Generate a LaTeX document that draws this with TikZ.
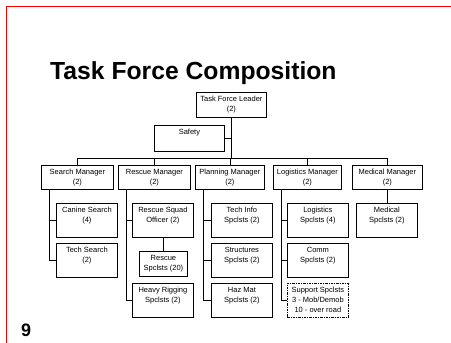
\documentclass[tikz,border=0pt]{standalone}
\usepackage{fontspec}
\setmainfont{Liberation Sans}
\begin{document}
\begin{tikzpicture}[x=1pt, y=-1pt]
        \tikzset{
            unit/.style={draw, line width=0.8pt, align=center, anchor=north west,
                font=\fontsize{7.5}{10}\selectfont, inner xsep=2pt, inner ysep=4pt},
            mgr/.style={unit, minimum width=#1, text depth=0.5pt},
            crew/.style={unit, minimum width=61pt, text depth=10.5pt},
            link/.style={line width=0.8pt}
        }
        \useasboundingbox (0,0) rectangle (451,343);
        \draw[red, line width=1.2pt] (6.5,343) |- (451,6.5);
        \node[anchor=base west, inner sep=0, font=\fontsize{24.7}{30}\selectfont\bfseries] (title) at (50,79) {Task Force Composition};
        \node[anchor=base west, inner sep=0, font=\fontsize{18}{22}\selectfont\bfseries] (page) at (21,336) {9};

        \node[unit, minimum width=70pt, text depth=1.5pt] (tfl) at (196,92) {Task Force Leader\\(2)};
        \node[unit, minimum width=70pt, text depth=12.5pt] (safety) at (154,125) {Safety};

        \node[mgr=72pt] (search)    at (41,165)  {Search Manager\\(2)};
        \node[mgr=72pt] (rescue)    at (118,165) {Rescue Manager\\(2)};
        \node[mgr=69pt] (planning)  at (195,165) {Planning Manager\\(2)};
        \node[mgr=68pt] (logistics) at (273,165) {Logistics Manager\\(2)};
        \node[mgr=70pt] (medical)   at (352,165) {Medical Manager\\(2)};

        \node[crew] (canine)   at (56,203)  {Canine Search\\(4)};
        \node[crew] (techsrch) at (56,243)  {Tech Search\\(2)};
        \node[crew] (squad)    at (132,203) {Rescue Squad\\Officer (2)};
        \node[unit, minimum width=48pt, text depth=1.5pt] (rescspc) at (139,251) {Rescue\\Spclsts (20)};
        \node[crew] (rigging)  at (132,283) {Heavy Rigging\\Spclsts (2)};
        \node[crew] (techinfo) at (211,203) {Tech Info\\Spclsts (2)};
        \node[crew] (structs)  at (211,243) {Structures\\Spclsts (2)};
        \node[crew] (hazmat)   at (211,283) {Haz Mat\\Spclsts (2)};
        \node[crew] (logspc)   at (287,203) {Logistics\\Spclsts (4)};
        \node[crew] (comm)     at (287,243) {Comm\\Spclsts (2)};
        \node[crew, text depth=0.5pt, dash pattern=on 2.5pt off 1pt on 1pt off 1pt] (support) at (287,283) {Support Spclsts\\3 - Mob/Demob\\10 - over road};
        \node[crew] (medspc)   at (356,203) {Medical\\Spclsts (2)};

        \coordinate (bus) at (0,158);
        \draw[link] (tfl.south) -- (tfl.south |- bus);
        \draw[link] (safety.east) -- (safety.east -| tfl.south);
        \draw[link] (search.north) |- (bus -| medical.north) -- (medical.north);
        \foreach \m in {rescue,planning,logistics}
            \draw[link] (\m.north) -- (\m.north |- bus);
        \foreach \m/\c in {search/canine, search/techsrch, rescue/squad, rescue/rigging,
                planning/techinfo, planning/structs, planning/hazmat,
                logistics/logspc, logistics/comm, logistics/support}
            \draw[link] ([xshift=8.5pt]\m.south west) |- (\c.west);
        \draw[link] (squad.south) -- (squad.south |- rescspc.north);
        \draw[link] (medical.south) -- (medical.south |- medspc.north);
\end{tikzpicture}
\end{document}
